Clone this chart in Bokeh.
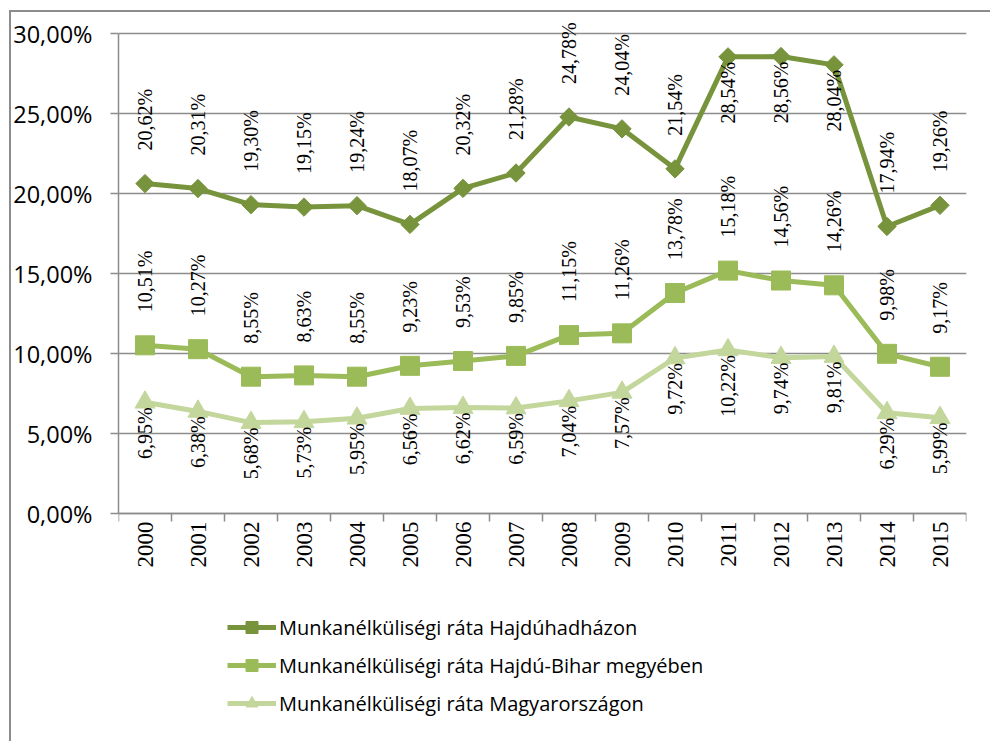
import math
from bokeh.plotting import figure
from bokeh.models import ColumnDataSource, Range1d, FixedTicker, LabelSet
from bokeh.embed import file_html
from bokeh.resources import INLINE

years = ["2000", "2001", "2002", "2003", "2004", "2005", "2006", "2007",
         "2008", "2009", "2010", "2011", "2012", "2013", "2014", "2015"]
hajduhadhaz = [20.62, 20.31, 19.30, 19.15, 19.24, 18.07, 20.32, 21.28,
               24.78, 24.04, 21.54, 28.54, 28.56, 28.04, 17.94, 19.26]
hajdu_bihar = [10.51, 10.27, 8.55, 8.63, 8.55, 9.23, 9.53, 9.85,
               11.15, 11.26, 13.78, 15.18, 14.56, 14.26, 9.98, 9.17]
magyarorszag = [6.95, 6.38, 5.68, 5.73, 5.95, 6.56, 6.62, 6.59,
                7.04, 7.57, 9.72, 10.22, 9.74, 9.81, 6.29, 5.99]
y_ticks = [0, 5, 10, 15, 20, 25, 30]
y_tick_labels = ["0,00%", "5,00%", "10,00%", "15,00%", "20,00%", "25,00%", "30,00%"]
series_names = ["Munkanélküliségi ráta Hajdúhadházon",
                "Munkanélküliségi ráta Hajdú-Bihar megyében",
                "Munkanélküliségi ráta Magyarországon"]
colors = ["#77933C", "#9BBB59", "#C3D69B"]
# data label placement (style): "a" = above the point, "b" = below
label_pos = [
    ["a"] * 11 + ["b", "b", "b"] + ["a", "a"],
    ["a"] * 16,
    ["b"] * 16,
]

FONT = "Open Sans"
GRID = "#8c8c8c"

def fmt(v):
    return f"{v:.2f}".replace(".", ",") + "%"

xs = list(range(len(years)))

# frame: 118..966 px horizontally, 30% at 33 px, 0% at 513 px (16 px per %);
# extended up and down so labels and legend sit inside the frame
p = figure(frame_width=848, frame_height=724,
           x_range=Range1d(-0.5, len(years) - 0.5), y_range=Range1d(-14, 31.25),
           output_backend="svg", toolbar_location=None,
           min_border_left=118, min_border_right=24,
           min_border_top=13, min_border_bottom=4)
p.outline_line_color = None
p.background_fill_color = "white"
p.border_fill_color = None
# outer chart-area border (cut by the window on the right and bottom)
p.styles = {
    "background": (f"linear-gradient({GRID},{GRID}) 9px 10px / 2px 100% no-repeat, "
                   f"linear-gradient({GRID},{GRID}) 9px 10px / 100% 2px no-repeat, "
                   "#ffffff"),
}

# y axis
yt = FixedTicker(ticks=y_ticks)
p.yaxis.ticker = yt
p.yaxis.bounds = (0, 30)
p.yaxis.major_label_overrides = {t: l for t, l in zip(y_ticks, y_tick_labels)}
p.yaxis.major_label_text_font = FONT
p.yaxis.major_label_text_font_size = "23.5px"
p.yaxis.major_label_text_color = "black"
p.yaxis.axis_line_color = GRID
p.yaxis.axis_line_width = 1.5
p.yaxis.major_tick_line_color = GRID
p.yaxis.major_tick_line_width = 1.5
p.yaxis.major_tick_out = 8
p.yaxis.major_tick_in = 0
p.yaxis.minor_tick_line_color = None
p.yaxis.major_label_standoff = 18

# x axis drawn at 0%, with tick marks between the categories
xt = FixedTicker(ticks=[], minor_ticks=[i - 0.5 for i in range(len(years) + 1)])
p.xaxis.ticker = xt
p.xaxis.fixed_location = 0
p.xaxis.major_label_standoff = 0
p.xaxis.axis_line_color = GRID
p.xaxis.axis_line_width = 1.5
p.xaxis.major_tick_line_color = None
p.xaxis.major_tick_out = 0
p.xaxis.major_tick_in = 0
p.xaxis.minor_tick_line_color = GRID
p.xaxis.minor_tick_line_width = 1.5
p.xaxis.minor_tick_out = 8
p.xaxis.minor_tick_in = 0

# category labels under the 0% line
ysrc = ColumnDataSource(dict(x=xs, y=[0] * len(xs), lab=years))
p.add_layout(LabelSet(x="x", y="y", text="lab", source=ysrc,
                      angle=math.pi / 2, text_align="right",
                      text_baseline="middle", y_offset=-8,
                      text_font=FONT, text_font_size="23px",
                      text_color="black"))

p.xgrid.visible = False
p.ygrid.ticker = yt
p.ygrid.grid_line_color = GRID
p.ygrid.grid_line_width = 1.5

markers = [("square", 13, math.pi / 4), ("square", 19, 0), ("triangle", 20, 0)]
data = [hajduhadhaz, hajdu_bihar, magyarorszag]
for vals, col, (mk, sz, ang), name, pos in zip(data, colors, markers, series_names, label_pos):
    src = ColumnDataSource(dict(x=xs, y=vals))
    p.line("x", "y", source=src, line_color=col, line_width=5, legend_label=name)
    p.scatter("x", "y", source=src, marker=mk, size=sz, angle=ang,
              fill_color=col, line_color=col, legend_label=name)
    for side in ("a", "b"):
        idx = [i for i, s in enumerate(pos) if s == side]
        if not idx:
            continue
        lsrc = ColumnDataSource(dict(x=[xs[i] for i in idx],
                                     y=[vals[i] for i in idx],
                                     lab=[fmt(vals[i]) for i in idx]))
        p.add_layout(LabelSet(x="x", y="y", text="lab", source=lsrc,
                              angle=math.pi / 2,
                              text_align="left" if side == "a" else "right",
                              text_baseline="middle",
                              y_offset=33 if side == "a" else -5,
                              text_font=FONT, text_font_size="20px",
                              text_color="black"))

legend = p.legend[0]
legend.location = (109, 19)
legend.orientation = "vertical"
legend.glyph_width = 49
legend.glyph_height = 30
legend.label_height = 30
legend.spacing = 8
legend.padding = 0
legend.margin = 0
legend.label_standoff = 3
legend.label_text_font = FONT
legend.label_text_font_size = "20px"
legend.label_text_color = "black"
legend.border_line_color = None
legend.background_fill_alpha = 0

open("out.html", "w").write(file_html(p, INLINE))
